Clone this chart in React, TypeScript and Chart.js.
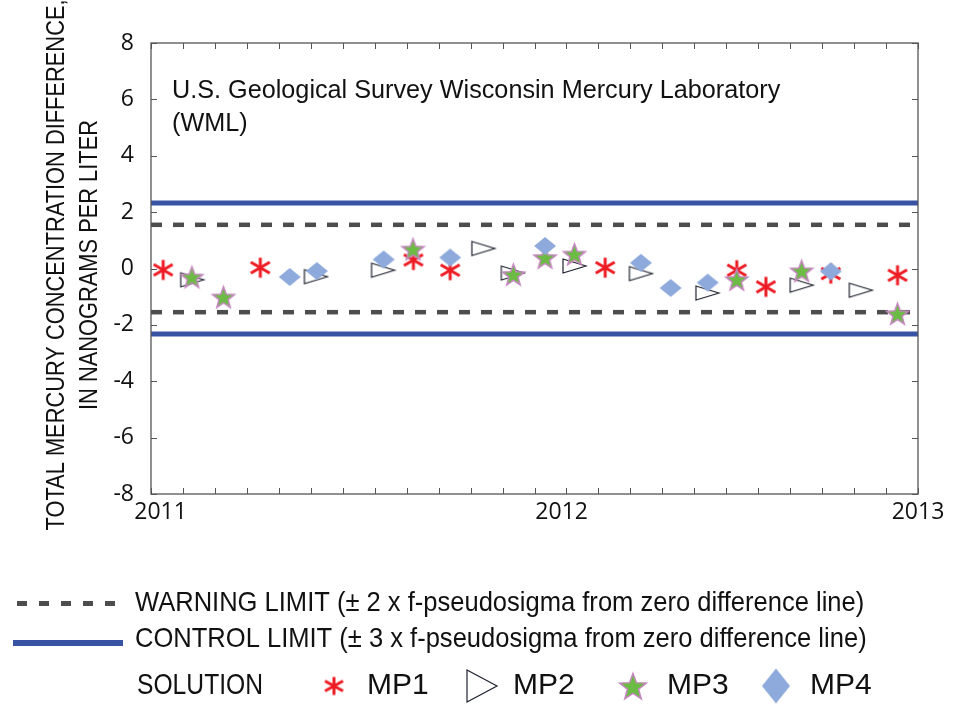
import { useEffect, useRef } from 'react';
import { Chart, registerables } from 'chart.js';

Chart.register(...registerables);

// ---- Data (months since Jan 2011) ----
const X_MIN = 0;
const X_MAX = 24;
const X_LABEL_POS = [0.3, 12.85, 24];
const X_LABELS = ['2011', '2012', '2013'];
const Y_MIN = -8;
const Y_MAX = 8;
const Y_STEP = 2;

const WARNING_LIMIT = 1.55;
const CONTROL_LIMIT = 2.32;

const MP1_MONTHS = [0.38, 3.42, 8.21, 9.36, 14.21, 18.33, 19.24, 21.27, 23.36];
const MP1_VALUES = [-0.05, 0.03, 0.3, -0.06, 0.03, -0.06, -0.65, -0.18, -0.24];

const MP2_MONTHS = [1.29, 5.16, 7.26, 10.4, 11.32, 13.25, 15.33, 17.41, 20.36, 22.21];
const MP2_VALUES = [-0.4, -0.29, -0.06, 0.71, -0.16, 0.09, -0.18, -0.87, -0.59, -0.77];

const MP3_MONTHS = [1.28, 2.27, 8.2, 11.34, 12.33, 13.25, 18.33, 20.36, 23.36];
const MP3_VALUES = [-0.3, -1.01, 0.69, -0.21, 0.39, 0.51, -0.39, -0.08, -1.6];

const MP4_MONTHS = [4.34, 5.19, 7.28, 9.36, 12.33, 15.33, 16.26, 17.42, 21.27];
const MP4_VALUES = [-0.3, -0.09, 0.32, 0.39, 0.8, 0.2, -0.69, -0.5, -0.1];

const REGULAR = '"Liberation Sans", Arial, sans-serif';
const TICKFONT = '"Open Sans", "Noto Sans", sans-serif';

const COL_RED = '#ed1c24';
const COL_BLUE = '#3953a4';
const COL_GRAY = '#4d4d4d';
const COL_GREEN = '#6cbb45';
const COL_PINK = '#c586c0';
const COL_DIAMOND = '#8eaadc';

function makeCanvas(w: number, h: number, draw: (ctx: CanvasRenderingContext2D, w: number, h: number) => void) {
  const c = document.createElement('canvas');
  c.width = w;
  c.height = h;
  const ctx = c.getContext('2d')!;
  draw(ctx, w, h);
  return c;
}

function asterisk(ry: number, dx: number, dy: number, lw: number) {
  const w = Math.ceil(dx * 2 + lw + 2);
  const h = Math.ceil(ry * 2 + lw + 2);
  return makeCanvas(w, h, (ctx) => {
    ctx.translate(w / 2, h / 2);
    ctx.strokeStyle = COL_RED;
    ctx.lineWidth = lw;
    ctx.lineCap = 'butt';
    const segs = [
      [0, -ry, 0, ry],
      [-dx, -dy, dx, dy],
      [-dx, dy, dx, -dy],
    ];
    for (const s of segs) {
      ctx.beginPath();
      ctx.moveTo(s[0], s[1]);
      ctx.lineTo(s[2], s[3]);
      ctx.stroke();
    }
  });
}

function triangle(tw: number, th: number) {
  const w = tw + 4;
  const h = th + 4;
  return makeCanvas(w, h, (ctx) => {
    ctx.translate(2, 2);
    ctx.beginPath();
    ctx.moveTo(0, 0);
    ctx.lineTo(tw, th / 2);
    ctx.lineTo(0, th);
    ctx.closePath();
    ctx.fillStyle = '#ffffff';
    ctx.fill();
    ctx.strokeStyle = '#1f2330';
    ctx.lineWidth = 1.2;
    ctx.stroke();
  });
}

function star(R: number) {
  const w = Math.ceil(R * 2 + 4);
  const h = w;
  return makeCanvas(w, h, (ctx) => {
    ctx.translate(w / 2, h / 2 + R * 0.1);
    const r = R * 0.42;
    ctx.beginPath();
    for (let i = 0; i < 10; i++) {
      const rad = i % 2 === 0 ? R : r;
      const a = -Math.PI / 2 + (i * Math.PI) / 5;
      const px = rad * Math.cos(a);
      const py = rad * Math.sin(a);
      if (i === 0) ctx.moveTo(px, py);
      else ctx.lineTo(px, py);
    }
    ctx.closePath();
    ctx.fillStyle = COL_GREEN;
    ctx.fill();
    ctx.strokeStyle = COL_PINK;
    ctx.lineWidth = 1.5;
    ctx.stroke();
  });
}

function diamond(dw: number, dh: number) {
  const w = dw + 2;
  const h = dh + 2;
  return makeCanvas(w, h, (ctx) => {
    ctx.translate(w / 2, h / 2);
    ctx.beginPath();
    ctx.moveTo(0, -dh / 2);
    ctx.lineTo(dw / 2, 0);
    ctx.lineTo(0, dh / 2);
    ctx.lineTo(-dw / 2, 0);
    ctx.closePath();
    ctx.fillStyle = COL_DIAMOND;
    ctx.fill();
  });
}

function pts(xs: number[], ys: number[]) {
  return xs.map((x, i) => ({ x, y: ys[i] }));
}

// draw text with a horizontal condensing factor (narrow-font look)
function textN(ctx: CanvasRenderingContext2D, text: string, x: number, y: number, size: number, sx: number) {
  ctx.save();
  ctx.translate(x, y);
  ctx.scale(sx, 1);
  ctx.font = `${size}px ${REGULAR}`;
  ctx.fillText(text, 0, 0);
  ctx.restore();
}

export default function App() {
  const ref = useRef<HTMLCanvasElement | null>(null);

  useEffect(() => {
    if (!ref.current) return;

    const mk1 = asterisk(10, 9.5, 5.5, 3);
    const mk2 = triangle(23, 14);
    const mk3 = star(11.5);
    const mk4 = diamond(22, 18);
    const lg1 = asterisk(9, 9, 5, 3);
    const lg2 = triangle(30, 32);
    const lg3 = star(14);
    const lg4 = diamond(28, 35);

    const decor = {
      id: 'decor',
      afterDatasetsDraw(chart: any) {
        const { ctx, chartArea: a, scales } = chart;
        const xs = scales.x;
        const ys = scales.y;
        ctx.save();
        ctx.strokeStyle = '#555555';
        ctx.lineWidth = 1.3;
        ctx.strokeRect(a.left, a.top, a.right - a.left, a.bottom - a.top);
        const tl = 6;
        ctx.beginPath();
        for (let m = X_MIN; m <= X_MAX; m += 1) {
          const px = Math.round(xs.getPixelForValue(m)) + 0.5;
          ctx.moveTo(px, a.bottom);
          ctx.lineTo(px, a.bottom - tl);
          ctx.moveTo(px, a.top);
          ctx.lineTo(px, a.top + tl);
        }
        for (let v = Y_MIN; v <= Y_MAX; v += Y_STEP) {
          const py = Math.round(ys.getPixelForValue(v)) + 0.5;
          ctx.moveTo(a.left, py);
          ctx.lineTo(a.left + tl, py);
          ctx.moveTo(a.right, py);
          ctx.lineTo(a.right - tl, py);
        }
        ctx.lineWidth = 1;
        ctx.stroke();
        ctx.restore();
      },
      afterDraw(chart: any) {
        const { ctx, chartArea: a } = chart;
        ctx.save();
        ctx.fillStyle = '#111111';
        ctx.textBaseline = 'alphabetic';
        ctx.textAlign = 'left';
        // annotation
        textN(ctx, 'U.S. Geological Survey Wisconsin Mercury Laboratory', a.left + 21, 98, 26, 0.97);
        textN(ctx, '(WML)', a.left + 21, 131, 26, 0.97);

        // y title
        ctx.save();
        ctx.translate(0, 265);
        ctx.rotate(-Math.PI / 2);
        ctx.textAlign = 'center';
        ctx.textBaseline = 'middle';
        textN(ctx, 'TOTAL MERCURY CONCENTRATION DIFFERENCE,', 0, 57, 26, 0.84);
        textN(ctx, 'IN NANOGRAMS PER LITER', 0, 90, 26, 0.84);
        ctx.restore();

        // legend
        ctx.textBaseline = 'middle';
        ctx.textAlign = 'left';
        ctx.save();
        ctx.strokeStyle = COL_GRAY;
        ctx.lineWidth = 5;
        ctx.setLineDash([10, 12]);
        ctx.beginPath();
        ctx.moveTo(17, 603.5);
        ctx.lineTo(117, 603.5);
        ctx.stroke();
        ctx.setLineDash([]);
        ctx.strokeStyle = COL_BLUE;
        ctx.lineWidth = 6;
        ctx.beginPath();
        ctx.moveTo(13, 643);
        ctx.lineTo(123, 643);
        ctx.stroke();
        ctx.restore();

        textN(ctx, 'WARNING LIMIT (\u00B1 2 x f-pseudosigma from zero difference line)', 135, 603, 28, 0.912);
        textN(ctx, 'CONTROL LIMIT (\u00B1 3 x f-pseudosigma from zero difference line)', 135, 639, 28, 0.912);
        textN(ctx, 'SOLUTION', 137, 686, 29, 0.85);

        const items: [HTMLCanvasElement, number, string, number][] = [
          [lg1, 334, 'MP1', 367],
          [lg2, 482, 'MP2', 513],
          [lg3, 633, 'MP3', 667],
          [lg4, 776, 'MP4', 810],
        ];
        for (const [img, cx, label, tx] of items) {
          ctx.drawImage(img, cx - img.width / 2, 686 - img.height / 2);
          textN(ctx, label, tx, 686, 30, 1);
        }
        ctx.restore();
      },
    };

    const limitLine = (y: number, color: string, width: number, dash: number[], order: number) => ({
      type: 'line' as const,
      data: [
        { x: X_MIN, y },
        { x: X_MAX, y },
      ],
      borderColor: color,
      borderWidth: width,
      borderDash: dash,
      pointRadius: 0,
      showLine: true,
      fill: false,
      order,
    });

    const chart = new Chart(ref.current, {
      type: 'scatter',
      data: {
        datasets: [
          { data: pts(MP4_MONTHS, MP4_VALUES), pointStyle: mk4, pointRadius: 10, order: 0 },
          { data: pts(MP3_MONTHS, MP3_VALUES), pointStyle: mk3, pointRadius: 10, order: 1 },
          { data: pts(MP2_MONTHS, MP2_VALUES), pointStyle: mk2, pointRadius: 10, order: 2 },
          { data: pts(MP1_MONTHS, MP1_VALUES), pointStyle: mk1, pointRadius: 10, order: 3 },
          limitLine(WARNING_LIMIT, COL_GRAY, 4.5, [11, 11], 4),
          limitLine(-WARNING_LIMIT, COL_GRAY, 4.5, [11, 11], 4),
          limitLine(CONTROL_LIMIT, COL_BLUE, 5, [], 5),
          limitLine(-CONTROL_LIMIT, COL_BLUE, 5, [], 5),
        ] as any,
      },
      options: {
        animation: false,
        responsive: false,
        devicePixelRatio: 1,
        events: [],
        layout: { padding: { left: 0, top: 43, right: 35, bottom: 172 } },
        plugins: { legend: { display: false }, tooltip: { enabled: false } },
        scales: {
          x: {
            type: 'linear',
            min: X_MIN,
            max: X_MAX,
            afterBuildTicks: (s: any) => {
              s.ticks = X_LABEL_POS.map((v) => ({ value: v }));
            },
            ticks: {
              autoSkip: false,
              maxRotation: 0,
              padding: 5,
              color: '#111111',
              font: { family: TICKFONT, size: 23 },
              callback: (_v: any, i: number) => X_LABELS[i],
            },
            grid: { display: false, drawTicks: false },
            border: { display: false },
            afterFit: (s: any) => {
              s.height = 40;
            },
          },
          y: {
            min: Y_MIN,
            max: Y_MAX,
            ticks: {
              stepSize: Y_STEP,
              padding: 17,
              color: '#111111',
              font: { family: TICKFONT, size: 23 },
            },
            grid: { display: false, drawTicks: false },
            border: { display: false },
            afterFit: (s: any) => {
              s.width = 151;
            },
          },
        },
      } as any,
      plugins: [decor],
    });

    return () => chart.destroy();
  }, []);

  return (
    <div style={{ position: 'absolute', left: 0, top: 0, width: 953, height: 706, background: '#fff' }}>
      <canvas ref={ref} width={953} height={706} />
    </div>
  );
}
